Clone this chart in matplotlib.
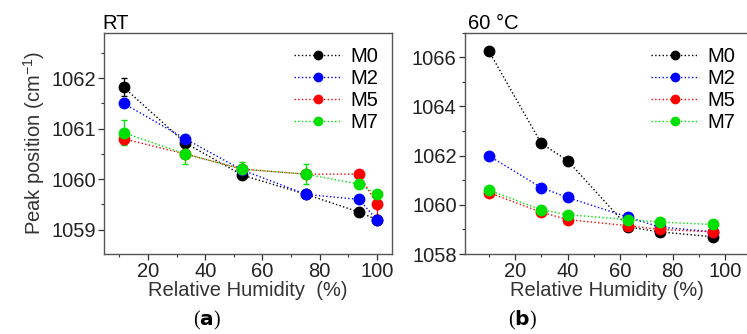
import matplotlib
matplotlib.use('Agg')
from matplotlib import pyplot as plt
from matplotlib.ticker import MultipleLocator

plt.rcParams['font.family'] = ['Liberation Sans', 'DejaVu Sans']
plt.rcParams['mathtext.fontset'] = 'custom'
plt.rcParams['mathtext.rm'] = 'Liberation Sans'

names = ['M0', 'M2', 'M5', 'M7']
colors = ['#000000', '#0000ff', '#ff0000', '#00e000']

# RT panel
rh_rt = [11.5, 33, 53, 75.3, 93.8, 100]
rt_m0 = [1061.82, 1060.72, 1060.08, 1059.70, 1059.35, 1059.20]
rt_m2 = [1061.50, 1060.80, 1060.18, 1059.70, 1059.60, 1059.20]
rt_m5 = [1060.80, 1060.50, 1060.20, 1060.10, 1060.10, 1059.50]
rt_m7 = [1060.92, 1060.50, 1060.20, 1060.10, 1059.90, 1059.70]
rt_err_m0 = [0.18, 0.05, 0.05, 0.05, 0.05, 0.05]
rt_err_m2 = [0.05, 0.05, 0.05, 0.05, 0.05, 0.05]
rt_err_m5 = [0.1, 0.05, 0.05, 0.05, 0.05, 0.2]
rt_err_m7 = [0.25, 0.2, 0.15, 0.2, 0.05, 0.05]

# 60 C panel
rh_60 = [10, 30, 40, 63, 75, 95.5]
t60_m0 = [1066.27, 1062.50, 1061.80, 1059.10, 1058.90, 1058.70]
t60_m2 = [1062.00, 1060.70, 1060.30, 1059.50, 1059.10, 1058.90]
t60_m5 = [1060.50, 1059.70, 1059.40, 1059.15, 1059.00, 1058.90]
t60_m7 = [1060.60, 1059.80, 1059.60, 1059.40, 1059.30, 1059.20]

fig = plt.figure(figsize=(7.47, 3.34), dpi=100)
ax1 = fig.add_axes([0.1392, 0.2395, 0.3855, 0.6626])
ax2 = fig.add_axes([0.6225, 0.2395, 0.380, 0.6626])

fs = 14.5
h1 = []
for ys, es, n, c in zip([rt_m0, rt_m2, rt_m5, rt_m7],
                        [rt_err_m0, rt_err_m2, rt_err_m5, rt_err_m7], names, colors):
    eb = ax1.errorbar(rh_rt, ys, yerr=es, color=c, ls=':', lw=1, marker='o', ms=7.5,
                      mec=c, mfc=c, capsize=2.5, elinewidth=0.9, label=n)
    h1.append(eb[0])
h2 = []
for ys, n, c in zip([t60_m0, t60_m2, t60_m5, t60_m7], names, colors):
    l, = ax2.plot(rh_60, ys, color=c, ls=':', lw=1, marker='o', ms=7.5,
                  mec=c, mfc=c, label=n)
    h2.append(l)

ax1.set_xlim(4.6, 105.3)
ax1.set_ylim(1058.52, 1062.9)
ax1.xaxis.set_major_locator(MultipleLocator(20))
ax1.xaxis.set_minor_locator(MultipleLocator(10))
ax1.yaxis.set_major_locator(MultipleLocator(1))
ax1.yaxis.set_minor_locator(MultipleLocator(0.5))
ax1.set_xlabel('Relative Humidity  (%)', fontsize=fs, color='#333333', labelpad=0)
ax1.set_ylabel('Peak position (cm$^{-1}$)', fontsize=fs, color='#333333', labelpad=3)
ax1.set_title('RT', loc='left', fontsize=fs, pad=3, x=-0.005)

ax2.set_xlim(1, 109)
ax2.set_ylim(1058, 1067)
ax2.xaxis.set_major_locator(MultipleLocator(20))
ax2.xaxis.set_minor_locator(MultipleLocator(10))
ax2.yaxis.set_major_locator(MultipleLocator(2))
ax2.yaxis.set_minor_locator(MultipleLocator(1))
ax2.set_xlabel('Relative Humidity (%)', fontsize=fs, color='#333333', labelpad=0)
ax2.set_title('60 °C', loc='left', fontsize=fs, pad=3, x=0.01)
ax2.spines['right'].set_visible(False)

for ax, hs in ((ax1, h1), (ax2, h2)):
    ax.tick_params(which='major', length=4, width=0.9, labelsize=fs, colors='#333333',
                   labelcolor='#222222', pad=2)
    ax.tick_params(which='minor', length=2.5, width=0.8, colors='#333333')
    for s in ax.spines.values():
        s.set_color('#555555')
        s.set_linewidth(1)
    ax.legend(hs, names, loc='upper right', frameon=False, fontsize=fs,
              handlelength=2.4, handletextpad=0.4, labelspacing=0.15,
              borderaxespad=0.3, markerscale=0.8)

fig.text(0.277, 0.025, r'($\mathbf{a}$)', ha='center', fontsize=14.5,
         family='Liberation Serif')
fig.text(0.699, 0.025, r'($\mathbf{b}$)', ha='center', fontsize=14.5,
         family='Liberation Serif')

fig.savefig('out.png', dpi=100)
